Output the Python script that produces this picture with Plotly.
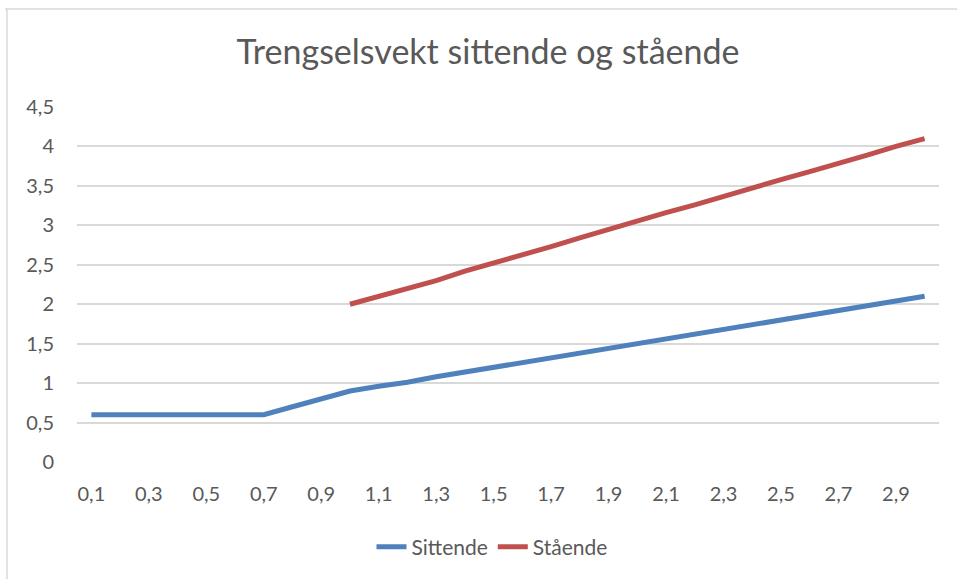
import plotly.graph_objects as go

categories = [f"{v/10:.1f}".replace(".", ",") for v in range(1, 31)]
tick_labels = categories[0::2]

sittende = [0.6, 0.6, 0.6, 0.6, 0.6, 0.6, 0.6, 0.7, 0.8, 0.9,
            0.96, 1.01, 1.08, 1.14, 1.2, 1.25, 1.31, 1.38, 1.43, 1.5,
            1.56, 1.61, 1.68, 1.74, 1.8, 1.86, 1.92, 1.97, 2.04, 2.1]
staende = [None, None, None, None, None, None, None, None, None, 2.0,
           2.1, 2.2, 2.3, 2.42, 2.52, 2.62, 2.73, 2.84, 2.95, 3.05,
           3.16, 3.26, 3.37, 3.47, 3.58, 3.68, 3.78, 3.89, 4.0, 4.1]
y_ticks = [0, 0.5, 1, 1.5, 2, 2.5, 3, 3.5, 4, 4.5]
y_tick_text = [str(v).replace(".", ",") for v in y_ticks]

FONT = "Lato"
GREY = "#595959"

fig = go.Figure()
fig.add_trace(go.Scatter(x=categories, y=sittende, mode="lines", name="Sittende",
                         line=dict(color="#4F81BD", width=5)))
fig.add_trace(go.Scatter(x=categories, y=staende, mode="lines", name="Stående",
                         line=dict(color="#C0504D", width=5)))

L, R, T, B = 77, 18, 107, 117
W, H = 957, 579
pw, ph = W - L - R, H - T - B

fig.update_layout(
    width=W, height=H,
    margin=dict(l=L, r=R, t=T, b=B),
    paper_bgcolor="white", plot_bgcolor="white",
    font=dict(family=FONT, color=GREY, size=20),
    title=dict(text="Trengselsvekt sittende og stående", x=(488 - L) / pw, xref="paper",
               xanchor="center", y=1 - 52 / H, yanchor="middle",
               font=dict(family=FONT, size=34, color=GREY)),
    showlegend=True,
    legend=dict(orientation="h", x=(492 - L) / pw, xanchor="center",
                y=-(547 - (T + ph)) / ph, yanchor="middle",
                font=dict(family=FONT, size=21, color=GREY)),
    xaxis=dict(type="category", categoryorder="array", categoryarray=categories,
               range=[-0.5, 29.5], tickmode="array", tickvals=tick_labels,
               ticktext=tick_labels, showgrid=False, zeroline=False,
               showline=False, ticks="", ticklabelstandoff=18,
               tickfont=dict(family=FONT, size=20, color=GREY)),
    yaxis=dict(range=[0, 4.5], tickmode="array", tickvals=y_ticks, ticktext=y_tick_text,
               showgrid=True, gridcolor="#D9D9D9", gridwidth=1.5, zeroline=False,
               showline=False, ticks="", ticklabelstandoff=22,
               tickfont=dict(family=FONT, size=20, color=GREY)),
    shapes=[
        dict(type="line", xref="paper", yref="paper",
             x0=(5 - L) / pw, x1=(957 - L) / pw,
             y0=(T + ph - 9) / ph, y1=(T + ph - 9) / ph,
             line=dict(color="#D9D9D9", width=1.5)),
        dict(type="line", xref="paper", yref="paper",
             x0=(7 - L) / pw, x1=(7 - L) / pw,
             y0=(T + ph - 9) / ph, y1=(T + ph - 579) / ph,
             line=dict(color="#D9D9D9", width=1.5)),
    ],
)

fig.write_html("out.html", config={"displayModeBar": False},
               post_script="document.body.style.margin='0';document.body.style.overflow='hidden';")
